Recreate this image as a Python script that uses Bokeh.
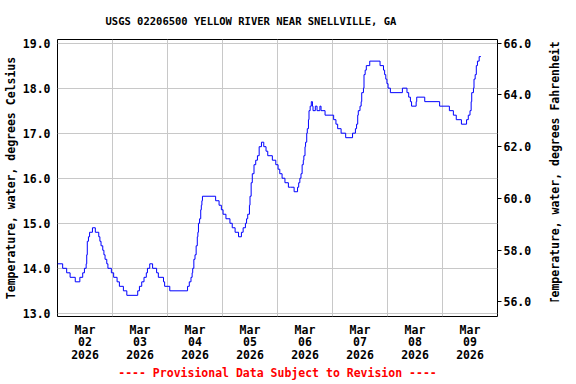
import math
from bokeh.plotting import figure
from bokeh.layouts import row
from bokeh.models import Range1d, LinearAxis, FixedTicker, PrintfTickFormatter, Label
from bokeh.embed import file_html
from bokeh.resources import INLINE

# hours since 2026-03-02 00:00 at which the reading changes, and the reading (deg C)
hours = [0, 2.25, 4.0, 5.5, 7.75, 9.75, 11.0, 11.75, 12.5, 12.75, 13.0, 13.5, 14.0,
         15.25, 16.5, 18.0, 18.5, 19.0, 19.75, 20.25, 20.75, 21.5, 22.0, 23.5, 24.5,
         26.0, 27.0, 28.75, 30.25, 35.0, 35.75, 36.75, 37.75, 38.75, 39.25, 40.25,
         41.5, 43.25, 44.0, 46.25, 46.75, 49.0, 56.75, 57.5, 58.25, 58.75, 59.0, 59.5,
         60.0, 60.5, 61.0, 61.25, 61.5, 62.0, 62.5, 62.75, 63.0, 63.25, 69.0, 70.5,
         71.5, 72.25, 73.5, 75.25, 76.25, 77.5, 79.0, 80.25, 81.0, 82.0, 82.5, 83.0,
         83.75, 84.0, 84.5, 85.0, 85.75, 86.5, 87.25, 88.0, 89.0, 90.0, 91.0, 91.75,
         93.75, 95.25, 96.25, 97.0, 98.0, 99.25, 100.75, 101.75, 103.25, 104.75,
         105.25, 105.75, 106.25, 106.75, 107.25, 107.5, 108.0, 108.25, 108.75, 109.0,
         109.5, 109.75, 110.25, 110.75, 111.25, 111.5, 112.5, 113.25, 114.5, 115.0,
         116.75, 120.5, 121.5, 122.25, 123.75, 125.75, 128.75, 130.0, 130.5, 131.0,
         131.25, 132.0, 132.5, 132.75, 133.5, 133.75, 134.25, 134.75, 136.25, 140.75,
         142.25, 142.75, 143.25, 143.75, 144.25, 145.25, 150.5, 152.5, 153.25, 154.0,
         154.5, 156.5, 156.75, 160.25, 166.75, 171.0, 172.75, 174.0, 176.25, 178.5,
         179.25, 180.0, 180.5, 180.75, 181.5, 181.75, 182.25, 182.75, 183.25, 184.0,
         184.75]
temp_c = [14.1, 14.0, 13.9, 13.8, 13.7, 13.8, 13.9, 14.0, 14.1, 14.3, 14.6, 14.7, 14.8,
          14.9, 14.8, 14.7, 14.6, 14.5, 14.4, 14.3, 14.2, 14.1, 14.0, 13.9, 13.8,
          13.7, 13.6, 13.5, 13.4, 13.5, 13.6, 13.7, 13.8, 13.9, 14.0, 14.1,
          14.0, 13.9, 13.8, 13.7, 13.6, 13.5, 13.6, 13.7, 13.8, 13.9, 14.0, 14.2,
          14.3, 14.5, 14.7, 14.8, 15.0, 15.1, 15.3, 15.4, 15.5, 15.6, 15.5, 15.4,
          15.3, 15.2, 15.1, 15.0, 14.9, 14.8, 14.7, 14.8, 14.9, 15.0, 15.1, 15.2,
          15.4, 15.6, 15.9, 16.1, 16.3, 16.4, 16.5, 16.7, 16.8, 16.7, 16.6, 16.5,
          16.4, 16.3, 16.2, 16.1, 16.0, 15.9, 15.8, 15.8, 15.7, 15.8,
          15.9, 16.0, 16.1, 16.3, 16.4, 16.5, 16.7, 16.8, 17.0, 17.1,
          17.3, 17.5, 17.6, 17.7, 17.6, 17.5, 17.6, 17.5, 17.6, 17.5,
          17.4, 17.3, 17.2, 17.1, 17.0, 16.9, 17.0, 17.1, 17.2, 17.4,
          17.5, 17.6, 17.7, 17.9, 18.0, 18.3, 18.4, 18.5, 18.6, 18.5,
          18.4, 18.3, 18.2, 18.1, 18.0, 17.9, 18.0, 17.9, 17.8, 17.7,
          17.6, 17.7, 17.8, 17.7, 17.6, 17.5, 17.4, 17.3, 17.2, 17.3,
          17.4, 17.5, 17.7, 17.9, 18.0, 18.2, 18.3, 18.5, 18.6, 18.7,
          18.7]

c_ticks = [13, 14, 15, 16, 17, 18, 19]
f_ticks = [56, 58, 60, 62, 64, 66]
day_label_hours = [12, 36, 60, 84, 108, 132, 156, 180]
day_labels = ["Mar\n02\n2026", "Mar\n03\n2026", "Mar\n04\n2026", "Mar\n05\n2026",
              "Mar\n06\n2026", "Mar\n07\n2026", "Mar\n08\n2026", "Mar\n09\n2026"]
midnight_hours = [24, 48, 72, 96, 120, 144, 168]
footer_text = "---- Provisional Data Subject to Revision ----"
right_label_text = "Temperature, water, degrees Fahrenheit"

FONT = "DejaVu Sans Mono"

p = figure(frame_width=440, frame_height=277, output_backend="svg", toolbar_location=None,
           x_range=Range1d(0, 192), y_range=Range1d(12.93, 19.08),
           min_border_left=51, min_border_right=45, min_border_top=31,
           min_border_bottom=58)
p.extra_y_ranges = {"F": Range1d(55.43, 66.14)}

p.title.text = "USGS 02206500 YELLOW RIVER NEAR SNELLVILLE, GA"
p.title.align = "left"
p.title.offset = 48
p.title.text_font = FONT
p.title.text_font_style = "bold"
p.title.text_font_size = "10.5px"
p.title.text_color = "black"
p.title.standoff = 25

p.outline_line_color = "black"
p.outline_line_width = 1
p.background_fill_color = "white"
p.border_fill_color = "white"

p.step(hours, temp_c, mode="after", line_color="#0000ff", line_width=1)

# left axis
ya = p.yaxis[0]
ya.ticker = FixedTicker(ticks=c_ticks)
ya.formatter = PrintfTickFormatter(format="%.1f")
ya.axis_label = "Temperature, water, degrees Celsius"
ya.major_label_standoff = 7
ya.axis_label_standoff = 2

# bottom axis (its label carries the provisional-data notice)
xa = p.xaxis[0]
xa.ticker = FixedTicker(ticks=day_label_hours)
xa.major_label_overrides = {float(h): lab for h, lab in zip(day_label_hours, day_labels)}
xa.major_label_standoff = 6
xa.major_label_text_line_height = 0.92
xa.axis_label = footer_text
xa.axis_label_standoff = 1

# right axis: Fahrenheit ticks
ra = LinearAxis(y_range_name="F", ticker=FixedTicker(ticks=f_ticks),
                formatter=PrintfTickFormatter(format="%.1f"))
ra.major_tick_out = 4
ra.major_label_standoff = 2
p.add_layout(ra, "right")

for ax in [ya, xa]:
    ax.major_tick_out = 0
for ax in [ya, xa, ra]:
    ax.axis_line_color = None
    ax.major_tick_in = 0
    ax.minor_tick_line_color = None
    ax.major_tick_line_color = "black"
    ax.major_label_text_font = FONT
    ax.major_label_text_font_style = "bold"
    ax.major_label_text_font_size = "11.5px"
    ax.major_label_text_color = "black"
    ax.axis_label_text_font = FONT
    ax.axis_label_text_font_style = "bold"
    ax.axis_label_text_font_size = "11.5px"
    ax.axis_label_text_color = "black"
xa.axis_label_text_color = "red"
xa.axis_label_text_line_height = 0.9

p.xgrid.ticker = FixedTicker(ticks=midnight_hours)
p.xgrid.grid_line_color = "#c8c8c8"
p.ygrid.grid_line_color = "#c8c8c8"

# narrow strip to the right that carries the Fahrenheit axis title (bottom-to-top);
# its frame lines up with the main frame, so the range is in frame pixels
p2 = figure(width=24, height=368, output_backend="svg", toolbar_location=None,
            x_range=Range1d(0, 24), y_range=Range1d(0, 277), min_border=0)
p2.xaxis.visible = False
p2.yaxis.visible = False
p2.grid.visible = False
p2.outline_line_color = None
p2.background_fill_color = "white"
p2.border_fill_color = "white"
p2.add_layout(Label(x=12, y=136, text=right_label_text, angle=math.pi / 2,
                    text_align="center", text_baseline="middle", text_font=FONT,
                    text_font_style="bold", text_font_size="11.5px",
                    text_color="black"))

layout = row(p, p2, spacing=0)

open("out.html", "w").write(file_html(layout, INLINE))
